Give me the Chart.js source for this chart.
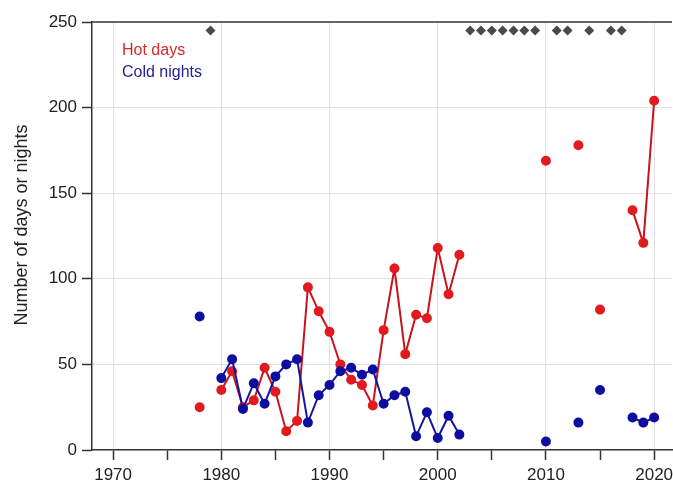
<!DOCTYPE html>
<html lang="en">
<head>
  <meta charset="UTF-8">
  <title>Hot days and cold nights</title>
  <script src="https://cdn.jsdelivr.net/npm/chart.js"></script>
  <style>
    body {
      margin: 0;
      background: #fff;
    }
    #chart {
      display: block;
    }
  </style>
</head>
<body>
  <canvas id="chart" width="673" height="484"></canvas>

  <script>
    // yearly counts, null = no data for that year
    const years = [1978, 1979, 1980, 1981, 1982, 1983, 1984, 1985, 1986, 1987,
      1988, 1989, 1990, 1991, 1992, 1993, 1994, 1995, 1996, 1997,
      1998, 1999, 2000, 2001, 2002, 2003, 2004, 2005, 2006, 2007,
      2008, 2009, 2010, 2011, 2012, 2013, 2014, 2015, 2016, 2017,
      2018, 2019, 2020];
    const hotDays = [25, null, 35, 46, 25, 29, 48, 34, 11, 17,
      95, 81, 69, 50, 41, 38, 26, 70, 106, 56,
      79, 77, 118, 91, 114, null, null, null, null, null,
      null, null, 169, null, null, 178, null, 82, null, null,
      140, 121, 204];
    const coldNights = [78, null, 42, 53, 24, 39, 27, 43, 50, 53,
      16, 32, 38, 46, 48, 44, 47, 27, 32, 34,
      8, 22, 7, 20, 9, null, null, null, null, null,
      null, null, 5, null, null, 16, null, 35, null, null,
      19, 16, 19];
    // years flagged with a diamond along the top
    const flaggedYears = [1979, 2003, 2004, 2005, 2006, 2007, 2008, 2009, 2011, 2012, 2014, 2016, 2017];
    const flagLevel = 245;
    const xTicks = [1970, 1975, 1980, 1985, 1990, 1995, 2000, 2005, 2010, 2015, 2020];

    const fontFamily = '"Liberation Sans", Arial, Helvetica, sans-serif';
    const redPoint = '#e11b1f';
    const redLine = '#c8141c';
    const bluePoint = '#0d0d9f';
    const blueLine = '#15159a';

    const toPoints = (values) => years.map((yr, i) => ({ x: yr, y: values[i] }));

    // legend text, y title and the top frame line
    const decorations = {
      id: 'decorations',
      afterDraw(chart) {
        const { ctx, chartArea } = chart;
        ctx.save();
        ctx.strokeStyle = '#333';
        ctx.lineWidth = 1.5;
        ctx.beginPath();
        ctx.moveTo(chartArea.left, chartArea.top);
        ctx.lineTo(chartArea.right, chartArea.top);
        ctx.stroke();

        ctx.font = '16px ' + fontFamily;
        ctx.textBaseline = 'middle';
        ctx.textAlign = 'left';
        ctx.fillStyle = '#d42a2a';
        ctx.fillText('Hot days', 122, 51);
        ctx.fillStyle = '#1f1f8f';
        ctx.fillText('Cold nights', 122, 73);

        ctx.translate(22, 225);
        ctx.rotate(-Math.PI / 2);
        ctx.textAlign = 'center';
        ctx.fillStyle = '#222';
        ctx.font = '18px ' + fontFamily;
        ctx.fillText('Number of days or nights', 0, 0);
        ctx.restore();
      }
    };

    new Chart(document.getElementById('chart').getContext('2d'), {
      type: 'line',
      data: {
        datasets: [
          {
            label: 'Cold nights',
            data: toPoints(coldNights),
            borderColor: blueLine,
            backgroundColor: bluePoint,
            pointBackgroundColor: bluePoint,
            pointBorderColor: bluePoint,
            borderWidth: 2,
            pointRadius: 4,
            spanGaps: false,
            tension: 0
          },
          {
            label: 'Hot days',
            data: toPoints(hotDays),
            borderColor: redLine,
            backgroundColor: redPoint,
            pointBackgroundColor: redPoint,
            pointBorderColor: redPoint,
            borderWidth: 2,
            pointRadius: 4,
            spanGaps: false,
            tension: 0
          },
          {
            label: 'Flagged',
            data: flaggedYears.map(yr => ({ x: yr, y: flagLevel })),
            showLine: false,
            pointStyle: 'rectRot',
            pointRadius: 5,
            pointBackgroundColor: '#4a4a4a',
            pointBorderColor: '#4a4a4a',
            borderWidth: 0
          }
        ]
      },
      options: {
        responsive: false,
        animation: false,
        events: [],
        layout: { autoPadding: false, padding: { top: 22, right: 1, left: 0, bottom: 0 } },
        plugins: {
          legend: { display: false },
          tooltip: { enabled: false }
        },
        scales: {
          x: {
            type: 'linear',
            min: 1968.05,
            max: 2021.65,
            afterBuildTicks: (scale) => { scale.ticks = xTicks.map(v => ({ value: v })); },
            afterFit: (scale) => {
              scale.height = 34;
              scale.paddingLeft = 0;
              scale.paddingRight = 0;
            },
            ticks: {
              color: '#222',
              padding: 5,
              maxRotation: 0,
              autoSkip: false,
              font: { family: fontFamily, size: 17 },
              callback: (v) => (v % 10 === 0 ? String(v) : '')
            },
            grid: {
              color: (ctx) => (ctx.tick && ctx.tick.value % 10 === 0 ? '#e0e0e0' : 'rgba(0,0,0,0)'),
              tickColor: '#333',
              tickLength: 10,
              lineWidth: 1,
              tickWidth: 1.5
            },
            border: { color: '#333', width: 1.5 }
          },
          y: {
            min: 0,
            max: 250,
            afterFit: (scale) => {
              scale.width = 92;
              scale.paddingTop = 0;
              scale.paddingBottom = 0;
            },
            ticks: {
              stepSize: 50,
              color: '#222',
              padding: 5,
              font: { family: fontFamily, size: 17 }
            },
            grid: {
              color: (ctx) => (ctx.tick && ctx.tick.value > 0 && ctx.tick.value < 250 ? '#e0e0e0' : 'rgba(0,0,0,0)'),
              tickColor: '#333',
              tickLength: 10,
              lineWidth: 1,
              tickWidth: 1.5
            },
            border: { color: '#333', width: 1.5 }
          }
        }
      },
      plugins: [decorations]
    });
  </script>
</body>
</html>
